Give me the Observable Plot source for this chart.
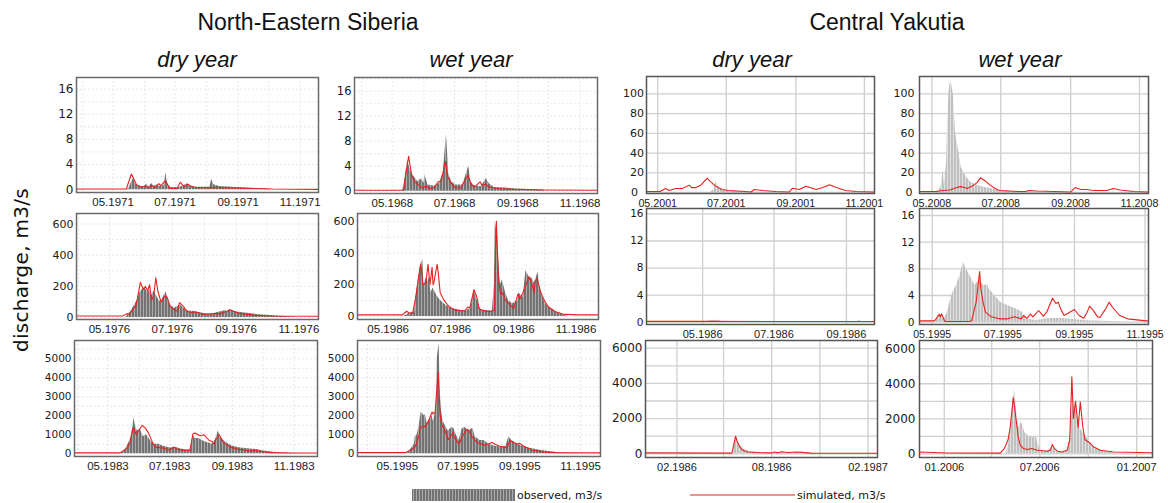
<!DOCTYPE html>
<html><head><meta charset="utf-8">
<script src="https://cdn.jsdelivr.net/npm/d3@7"></script>
<script src="https://cdn.jsdelivr.net/npm/@observablehq/plot@0.6"></script>
<style>
body{margin:0;background:#fff;}
#root{position:relative;width:1168px;height:503px;overflow:hidden;background:#fff;}
</style></head><body>
<div id="root">
<svg width="0" height="0" style="position:absolute"><defs>
<pattern id="obsNE" patternUnits="userSpaceOnUse" width="3" height="6"><rect width="3" height="6" fill="#b2b2b2"/><rect width="2.1" height="6" fill="#737373"/></pattern>
<pattern id="obsCY" patternUnits="userSpaceOnUse" width="3" height="6"><rect width="3" height="6" fill="#e4e4e4"/><rect width="2.1" height="6" fill="#c0c0c0"/></pattern>
</defs></svg>
<svg id="txt" width="1168" height="503" style="position:absolute;left:0;top:0">
<g font-family="Liberation Sans, Arial, sans-serif" fill="#111" text-anchor="middle">
<text x="308" y="30" font-size="23">North-Eastern Siberia</text>
<text x="887" y="30" font-size="23">Central Yakutia</text>
<g font-style="italic" font-size="22">
<text x="197" y="67">dry year</text>
<text x="471" y="67">wet year</text>
<text x="752" y="67">dry year</text>
<text x="1020" y="67">wet year</text>
</g>
</g>
<text transform="translate(28,270) rotate(-90)" text-anchor="middle" font-family="DejaVu Sans, Verdana, sans-serif" font-size="20" letter-spacing="0.3" fill="#111">discharge, m3/s</text>
<g font-family="DejaVu Sans, Verdana, sans-serif" font-size="11" fill="#111">
<rect x="412" y="489" width="103" height="12" fill="url(#obsNE)"/>
<text x="517" y="499">observed, m3/s</text>
<line x1="690" x2="795" y1="495" y2="495" stroke="#e8211f" stroke-width="1"/>
<text x="797" y="499">simulated, m3/s</text>
</g>
</svg>
</div>
<script>
// ---------- data: observed / simulated discharge (m3/s) ----------
const p1Obs = [["1971-03-26",0],["1971-05-15",0],["1971-05-17",0.4],["1971-05-21",1.8],["1971-05-23",0.9],["1971-05-25",0.6],["1971-05-29",0.5],["1971-06-01",0.5],["1971-06-03",0.9],["1971-06-05",0.4],["1971-06-08",1.0],["1971-06-10",0.5],["1971-06-13",0.8],["1971-06-16",0.5],["1971-06-20",0.6],["1971-06-22",2.7],["1971-06-23",1.4],["1971-06-25",0.5],["1971-06-28",0.3],["1971-07-06",0.4],["1971-07-13",0.9],["1971-07-16",0.6],["1971-07-22",0.4],["1971-08-04",0.4],["1971-08-06",1.6],["1971-08-08",0.8],["1971-08-14",0.5],["1971-09-03",0.3],["1971-09-19",0.2],["1971-09-29",0.15],["1971-10-02",0],["1971-11-19",0]];
const p1Sim = [["1971-03-26",0.1],["1971-05-14",0.1],["1971-05-19",2.5],["1971-05-24",0.8],["1971-05-29",0.4],["1971-06-02",0.6],["1971-06-05",0.3],["1971-06-08",0.7],["1971-06-11",0.3],["1971-06-15",0.95],["1971-06-17",0.6],["1971-06-21",1.4],["1971-06-26",0.2],["1971-07-03",0.2],["1971-07-06",1.2],["1971-07-10",0.4],["1971-07-13",0.9],["1971-07-17",0.5],["1971-07-22",0.3],["1971-08-04",0.35],["1971-09-03",0.25],["1971-10-05",0.1],["1971-11-19",0.05]];

const p2Obs = [["1968-03-25",0],["1968-05-11",0],["1968-05-13",1.5],["1968-05-16",5.0],["1968-05-19",3.2],["1968-05-23",2.2],["1968-05-26",1.5],["1968-05-30",2.0],["1968-06-01",1.2],["1968-06-02",2.6],["1968-06-05",1.0],["1968-06-11",0.8],["1968-06-16",1.2],["1968-06-20",3.0],["1968-06-23",9.1],["1968-06-24",6.7],["1968-06-25",3.0],["1968-06-28",1.5],["1968-07-02",1.0],["1968-07-09",1.0],["1968-07-15",4.0],["1968-07-17",1.5],["1968-07-20",0.9],["1968-07-27",0.7],["1968-08-01",2.0],["1968-08-04",1.2],["1968-08-09",0.6],["1968-08-20",0.5],["1968-08-28",0.4],["1968-09-07",0.3],["1968-09-26",0.2],["1968-09-28",0],["1968-11-18",0]];
const p2Sim = [["1968-03-25",0.15],["1968-05-12",0.15],["1968-05-17",5.6],["1968-05-20",2.5],["1968-05-23",1.5],["1968-05-28",0.8],["1968-05-31",0.5],["1968-06-03",0.9],["1968-06-06",0.4],["1968-06-11",0.6],["1968-06-15",1.5],["1968-06-18",1.6],["1968-06-22",4.8],["1968-06-24",2.4],["1968-06-27",1.5],["1968-07-01",0.6],["1968-07-07",0.5],["1968-07-14",2.6],["1968-07-17",1.2],["1968-07-20",0.6],["1968-07-26",1.5],["1968-07-28",0.9],["1968-07-31",1.1],["1968-08-05",0.6],["1968-08-15",0.4],["1968-08-28",0.3],["1968-09-26",0.2],["1968-11-18",0.15]];

const p3Obs = [["2001-04-21",0],["2001-06-17",0],["2001-06-20",3],["2001-06-22",11],["2001-06-24",6],["2001-06-27",3],["2001-07-03",1.5],["2001-07-18",0.5],["2001-08-01",0],["2001-11-10",0]];
const p3Sim = [["2001-04-21",1],["2001-05-03",1],["2001-05-08",4],["2001-05-11",2],["2001-05-17",4],["2001-05-23",4],["2001-05-29",7.5],["2001-05-31",5],["2001-06-04",5],["2001-06-08",7],["2001-06-14",14.5],["2001-06-17",11],["2001-06-21",7],["2001-06-27",3],["2001-07-03",2],["2001-07-18",1],["2001-07-23",0.5],["2001-07-26",3],["2001-08-02",2],["2001-08-14",1],["2001-08-26",0.5],["2001-08-29",4.4],["2001-09-04",3],["2001-09-10",6.4],["2001-09-19",3],["2001-09-25",5],["2001-10-01",7.8],["2001-10-07",5],["2001-10-15",2],["2001-10-25",1],["2001-11-10",0.5]];

const p4Obs = [["2008-04-20",0],["2008-05-04",0],["2008-05-07",2],["2008-05-09",5],["2008-05-11",23],["2008-05-12",8],["2008-05-14",30],["2008-05-15",70],["2008-05-16",100],["2008-05-17",110],["2008-05-18",113],["2008-05-20",100],["2008-05-21",80],["2008-05-22",60],["2008-05-25",40],["2008-05-27",25],["2008-06-01",15],["2008-06-05",10],["2008-06-13",6],["2008-06-21",4],["2008-06-30",2],["2008-07-12",1],["2008-07-27",0.5],["2008-08-11",0],["2008-11-09",0]];
const p4Sim = [["2008-04-20",1],["2008-05-05",1],["2008-05-10",2],["2008-05-17",2.5],["2008-05-23",5],["2008-05-26",6],["2008-05-30",5],["2008-06-01",4],["2008-06-05",6],["2008-06-10",10],["2008-06-13",15],["2008-06-17",12],["2008-06-21",8],["2008-06-26",4],["2008-06-30",2],["2008-07-18",1],["2008-07-23",1],["2008-07-26",2],["2008-08-02",1.5],["2008-08-17",1],["2008-09-01",0.5],["2008-09-05",5],["2008-09-10",3],["2008-09-15",3],["2008-09-21",2],["2008-10-03",2],["2008-10-09",4],["2008-10-15",2.5],["2008-10-27",1],["2008-11-09",0.5]];

const p5Obs = [["1976-03-30",0],["1976-05-17",0],["1976-05-22",40],["1976-05-28",110],["1976-05-31",165],["1976-06-04",195],["1976-06-05",185],["1976-06-07",160],["1976-06-09",175],["1976-06-11",140],["1976-06-13",170],["1976-06-15",150],["1976-06-18",110],["1976-06-20",100],["1976-06-23",140],["1976-06-25",165],["1976-06-27",110],["1976-06-29",80],["1976-07-03",60],["1976-07-09",80],["1976-07-12",60],["1976-07-17",40],["1976-07-22",40],["1976-07-28",30],["1976-08-07",20],["1976-08-13",30],["1976-08-22",45],["1976-08-23",35],["1976-08-26",50],["1976-09-02",35],["1976-09-08",30],["1976-09-21",20],["1976-10-07",12],["1976-10-23",5],["1976-11-02",0],["1976-11-20",0]];
const p5Sim = [["1976-03-30",10],["1976-05-14",10],["1976-05-18",25],["1976-05-20",20],["1976-05-27",80],["1976-05-31",225],["1976-06-03",180],["1976-06-05",200],["1976-06-07",170],["1976-06-09",210],["1976-06-11",110],["1976-06-13",140],["1976-06-15",255],["1976-06-17",170],["1976-06-20",100],["1976-06-24",140],["1976-06-26",130],["1976-06-29",70],["1976-07-03",50],["1976-07-06",40],["1976-07-08",95],["1976-07-12",70],["1976-07-15",40],["1976-07-20",30],["1976-07-23",35],["1976-08-01",20],["1976-08-10",25],["1976-08-17",25],["1976-08-23",40],["1976-08-26",50],["1976-08-31",35],["1976-09-05",25],["1976-09-18",15],["1976-10-07",10],["1976-11-20",8]];

const p6Obs = [["1986-04-01",0],["1986-05-16",0],["1986-05-22",20],["1986-05-27",30],["1986-05-28",120],["1986-05-31",250],["1986-06-02",330],["1986-06-04",360],["1986-06-05",200],["1986-06-07",240],["1986-06-09",220],["1986-06-10",250],["1986-06-12",150],["1986-06-14",180],["1986-06-17",140],["1986-06-20",110],["1986-06-23",90],["1986-06-27",70],["1986-07-03",50],["1986-07-10",40],["1986-07-16",35],["1986-07-21",50],["1986-07-24",160],["1986-07-26",130],["1986-07-29",70],["1986-07-31",40],["1986-08-11",35],["1986-08-13",200],["1986-08-14",600],["1986-08-16",500],["1986-08-17",380],["1986-08-19",200],["1986-08-21",230],["1986-08-24",150],["1986-08-27",100],["1986-08-31",80],["1986-09-05",100],["1986-09-06",150],["1986-09-10",120],["1986-09-13",290],["1986-09-16",250],["1986-09-19",240],["1986-09-21",210],["1986-09-25",280],["1986-09-26",200],["1986-09-29",130],["1986-10-02",80],["1986-10-05",60],["1986-10-12",30],["1986-10-19",10],["1986-10-25",0],["1986-11-23",0]];
const p6Sim = [["1986-04-01",10],["1986-05-15",10],["1986-05-19",33],["1986-05-22",20],["1986-05-25",20],["1986-05-28",120],["1986-06-01",300],["1986-06-02",330],["1986-06-04",200],["1986-06-07",210],["1986-06-09",330],["1986-06-11",200],["1986-06-13",310],["1986-06-14",200],["1986-06-15",220],["1986-06-18",330],["1986-06-19",280],["1986-06-21",150],["1986-06-25",100],["1986-06-30",60],["1986-07-06",40],["1986-07-15",35],["1986-07-18",60],["1986-07-20",55],["1986-07-24",170],["1986-07-27",120],["1986-07-29",50],["1986-08-01",40],["1986-08-08",30],["1986-08-11",35],["1986-08-13",40],["1986-08-14",300],["1986-08-15",600],["1986-08-17",250],["1986-08-19",140],["1986-08-21",150],["1986-08-24",100],["1986-08-29",70],["1986-09-01",50],["1986-09-05",140],["1986-09-07",110],["1986-09-10",150],["1986-09-13",200],["1986-09-16",250],["1986-09-19",200],["1986-09-21",150],["1986-09-22",220],["1986-09-24",240],["1986-09-27",160],["1986-10-01",100],["1986-10-05",60],["1986-10-12",30],["1986-10-19",15],["1986-11-01",10],["1986-11-23",10]];

const p7Obs = [["1986-03-14",0],["1986-05-04",0],["1986-05-08",0.3],["1986-05-15",0.25],["1986-05-19",0],["1986-06-10",0],["1986-06-15",0.15],["1986-06-24",0.1],["1986-06-28",0],["1986-09-08",0],["1986-09-12",0.2],["1986-09-16",0],["1986-09-25",0]];
const p7Sim = [["1986-03-14",0.12],["1986-05-01",0.12],["1986-07-01",0.1],["1986-09-25",0.1]];

const p8Obs = [["1995-04-20",0],["1995-05-04",0],["1995-05-07",1.5],["1995-05-09",0.8],["1995-05-11",0.5],["1995-05-13",1.0],["1995-05-15",2.0],["1995-05-17",3.5],["1995-05-19",4.5],["1995-05-22",5.5],["1995-05-25",7],["1995-05-28",9],["1995-05-29",8.5],["1995-06-01",7.5],["1995-06-04",6.5],["1995-06-07",5.5],["1995-06-11",6.5],["1995-06-14",5.5],["1995-06-18",5.6],["1995-06-19",5.0],["1995-06-24",4],["1995-06-29",3],["1995-07-05",2.5],["1995-07-12",2],["1995-07-18",1.5],["1995-07-21",0.5],["1995-07-30",0.2],["1995-08-08",0.5],["1995-08-19",0.6],["1995-08-31",0.4],["1995-09-11",0.2],["1995-10-04",0.1],["1995-10-16",0],["1995-11-04",0]];
const p8Sim = [["1995-04-20",0.2],["1995-05-03",0.2],["1995-05-07",1.15],["1995-05-08",0.8],["1995-05-09",1.25],["1995-05-12",0.1],["1995-06-02",0.1],["1995-06-04",0.2],["1995-06-08",3],["1995-06-11",7.6],["1995-06-12",5],["1995-06-14",3],["1995-06-16",1.5],["1995-06-21",0.8],["1995-06-28",0.5],["1995-07-05",0.5],["1995-07-11",0.8],["1995-07-17",0.5],["1995-07-19",1.0],["1995-07-21",0.7],["1995-07-22",0.6],["1995-07-25",1.2],["1995-07-27",0.8],["1995-08-01",1.75],["1995-08-05",0.9],["1995-08-08",1.5],["1995-08-13",3.6],["1995-08-16",2.8],["1995-08-18",3.0],["1995-08-20",2.0],["1995-08-23",1.0],["1995-09-01",1.9],["1995-09-05",1.0],["1995-09-09",0.6],["1995-09-12",1.5],["1995-09-14",2.4],["1995-09-17",1.8],["1995-09-21",0.8],["1995-09-23",0.7],["1995-09-26",1.5],["1995-09-28",2.0],["1995-10-01",3.0],["1995-10-04",2.2],["1995-10-10",1.0],["1995-10-17",0.5],["1995-11-02",0.2],["1995-11-04",0.2]];

const p9Obs = [["1983-03-29",0],["1983-05-13",0],["1983-05-18",200],["1983-05-21",500],["1983-05-24",900],["1983-05-27",1900],["1983-05-28",1500],["1983-05-30",1200],["1983-06-02",1300],["1983-06-05",900],["1983-06-08",1000],["1983-06-12",700],["1983-06-15",500],["1983-06-20",500],["1983-06-25",400],["1983-07-02",300],["1983-07-07",350],["1983-07-12",250],["1983-07-18",200],["1983-07-22",200],["1983-07-24",1000],["1983-07-26",800],["1983-07-30",800],["1983-08-02",700],["1983-08-07",600],["1983-08-12",500],["1983-08-15",700],["1983-08-18",1200],["1983-08-20",900],["1983-08-23",700],["1983-08-27",550],["1983-09-01",400],["1983-09-09",300],["1983-09-19",250],["1983-09-25",220],["1983-10-02",150],["1983-10-12",80],["1983-10-22",40],["1983-11-04",20],["1983-11-10",0],["1983-11-24",0]];
const p9Sim = [["1983-03-29",50],["1983-05-13",50],["1983-05-20",300],["1983-05-23",600],["1983-05-26",1400],["1983-05-29",1000],["1983-05-31",1200],["1983-06-04",1500],["1983-06-07",1350],["1983-06-10",1100],["1983-06-14",600],["1983-06-17",350],["1983-06-25",300],["1983-06-30",200],["1983-07-05",350],["1983-07-08",250],["1983-07-15",180],["1983-07-21",180],["1983-07-24",1050],["1983-07-26",1100],["1983-07-31",950],["1983-08-04",1000],["1983-08-09",700],["1983-08-12",650],["1983-08-14",500],["1983-08-15",700],["1983-08-19",1000],["1983-08-21",800],["1983-08-24",550],["1983-08-27",450],["1983-08-30",350],["1983-09-06",250],["1983-09-12",200],["1983-09-19",150],["1983-09-24",180],["1983-09-29",120],["1983-10-09",60],["1983-10-28",40],["1983-11-24",40]];

const p10Obs = [["1995-03-22",0],["1995-05-11",0],["1995-05-14",200],["1995-05-18",500],["1995-05-19",900],["1995-05-21",1000],["1995-05-23",1500],["1995-05-25",2200],["1995-05-28",2000],["1995-05-29",2100],["1995-05-31",1600],["1995-06-03",1800],["1995-06-05",2000],["1995-06-06",1700],["1995-06-09",2300],["1995-06-10",5000],["1995-06-12",5800],["1995-06-13",3500],["1995-06-14",2400],["1995-06-16",1700],["1995-06-18",1500],["1995-06-21",1200],["1995-06-25",1400],["1995-06-27",1300],["1995-06-30",900],["1995-07-02",700],["1995-07-05",1300],["1995-07-08",1400],["1995-07-11",1200],["1995-07-16",1350],["1995-07-18",900],["1995-07-23",700],["1995-07-27",700],["1995-08-01",500],["1995-08-07",400],["1995-08-14",350],["1995-08-18",400],["1995-08-21",900],["1995-08-24",700],["1995-08-27",600],["1995-09-01",450],["1995-09-10",300],["1995-09-20",200],["1995-09-30",120],["1995-10-10",60],["1995-10-27",20],["1995-11-03",0],["1995-11-21",0]];
const p10Sim = [["1995-03-22",60],["1995-05-09",60],["1995-05-14",200],["1995-05-18",300],["1995-05-20",500],["1995-05-23",1000],["1995-05-24",1400],["1995-05-28",1450],["1995-05-29",1400],["1995-06-01",1700],["1995-06-05",2200],["1995-06-06",2100],["1995-06-08",2200],["1995-06-11",4300],["1995-06-13",2000],["1995-06-15",1500],["1995-06-18",1200],["1995-06-21",750],["1995-06-26",1100],["1995-06-28",800],["1995-07-02",500],["1995-07-05",900],["1995-07-10",1300],["1995-07-12",1200],["1995-07-15",900],["1995-07-18",700],["1995-07-22",550],["1995-07-28",450],["1995-08-04",600],["1995-08-07",500],["1995-08-12",400],["1995-08-17",350],["1995-08-19",300],["1995-08-22",700],["1995-08-26",600],["1995-08-29",500],["1995-09-01",550],["1995-09-05",400],["1995-09-13",200],["1995-09-23",100],["1995-10-07",60],["1995-11-21",50]];

const p11Obs = [["1985-12-03",0],["1986-05-19",0],["1986-05-22",600],["1986-05-25",850],["1986-05-30",600],["1986-06-04",400],["1986-06-10",250],["1986-06-19",150],["1986-07-05",80],["1986-08-01",50],["1986-08-20",80],["1986-09-14",60],["1986-10-09",40],["1986-10-22",0],["1987-02-19",0]];
const p11Sim = [["1985-12-03",50],["1986-05-17",40],["1986-05-24",1000],["1986-05-27",700],["1986-06-01",400],["1986-06-07",200],["1986-06-16",100],["1986-07-12",60],["1986-08-01",50],["1986-08-07",100],["1986-08-12",60],["1986-08-20",120],["1986-09-01",70],["1986-09-17",100],["1986-09-27",80],["1986-10-15",40],["1987-02-19",30]];

const p12Obs = [["2005-11-15",80],["2005-11-23",50],["2005-11-26",0],["2006-04-28",0],["2006-05-03",500],["2006-05-07",1500],["2006-05-11",3000],["2006-05-14",3700],["2006-05-17",2800],["2006-05-22",1500],["2006-05-27",1800],["2006-05-30",1600],["2006-06-03",1200],["2006-06-10",1000],["2006-06-19",900],["2006-06-24",1000],["2006-06-27",700],["2006-07-02",200],["2006-07-15",150],["2006-07-21",300],["2006-07-27",400],["2006-08-03",100],["2006-08-22",150],["2006-08-28",1000],["2006-09-01",2500],["2006-09-04",3000],["2006-09-10",2200],["2006-09-15",1500],["2006-09-21",1200],["2006-09-27",1000],["2006-10-05",600],["2006-10-14",300],["2006-10-30",150],["2006-11-18",50],["2006-11-25",0],["2007-01-31",0]];
const p12Sim = [["2005-11-15",100],["2006-01-06",50],["2006-04-17",40],["2006-04-25",300],["2006-05-02",800],["2006-05-06",1500],["2006-05-12",3200],["2006-05-15",2500],["2006-05-21",1000],["2006-05-25",500],["2006-05-31",300],["2006-06-07",250],["2006-06-16",300],["2006-06-26",200],["2006-07-15",150],["2006-07-21",200],["2006-07-25",530],["2006-07-29",300],["2006-08-04",150],["2006-08-12",100],["2006-08-22",200],["2006-08-27",800],["2006-08-31",4400],["2006-09-03",2000],["2006-09-07",3000],["2006-09-12",1500],["2006-09-16",2950],["2006-09-21",1500],["2006-09-25",800],["2006-10-05",600],["2006-10-11",400],["2006-10-24",200],["2006-11-18",100],["2007-01-31",60]];

// ---------- tick labels ----------
const ticksSmall = [0,4,8,12,16];
const ticks100 = [0,20,40,60,80,100];
const ticks600 = [0,200,400,600];
const ticks5000 = [0,1000,2000,3000,4000,5000];
const ticks6000 = [0,2000,4000,6000];
const xt = y => [`${y}-05-01`,`${y}-07-01`,`${y}-09-01`,`${y}-11-01`];
const xt11 = ["1986-02-01","1986-08-01","1987-02-01"];
const xg11 = ["1986-02-01","1986-05-01","1986-08-01","1986-11-01","1987-02-01"];
const xt12 = ["2006-01-01","2006-07-01","2007-01-01"];
const xg12 = ["2006-01-01","2006-04-01","2006-07-01","2006-10-01","2007-01-01"];

// ---------- layout (frame boxes: left, top, right, bottom) ----------
const panels = [
  {obs:p1Obs, sim:p1Sim, xd:["1971-03-26","1971-11-19"], xt:xt(1971), yd:[-0.45,17.85], yt:ticksSmall, ystep:2, kind:"NE", box:[76,77,318,192], yfs:12, xp:5, xfs:11.5},
  {obs:p2Obs, sim:p2Sim, xd:["1968-03-25","1968-11-18"], xt:xt(1968), yd:[-0.37,18.2], yt:ticksSmall, ystep:2, kind:"NE", box:[354,77,597,193], yfs:11.5, xp:5, xfs:11.5},
  {obs:p3Obs, sim:p3Sim, xd:["2001-04-21","2001-11-10"], xt:xt(2001), yd:[-1,117.7], yt:ticks100, kind:"CY", box:[646,76,874,193], yfs:11, xp:5.5, xfs:10.7, yp:2.5, zeroDx:-6},
  {obs:p4Obs, sim:p4Sim, xd:["2008-04-20","2008-11-09"], xt:xt(2008), yd:[-1,117.7], yt:ticks100, kind:"CY", box:[919,76,1148,193], yfs:11, xp:5.5, xfs:10.7, yp:5, zeroDx:-2},
  {obs:p5Obs, sim:p5Sim, xd:["1976-03-30","1976-11-20"], xt:xt(1976), yd:[-12.8,667.6], yt:ticks600, ystep:100, kind:"NE", box:[76,213,318,319], yfs:11, xp:5, xfs:11.5},
  {obs:p6Obs, sim:p6Sim, xd:["1986-04-01","1986-11-23"], xt:xt(1986), yd:[-19,650], yt:ticks600, ystep:100, kind:"NE", box:[357,213,598,319], yfs:11, xp:5, xfs:11.5},
  {obs:p7Obs, sim:p7Sim, xd:["1986-03-14","1986-09-25"], xt:["1986-05-01","1986-07-01","1986-09-01"], yd:[-0.34,16.8], yt:ticksSmall, kind:"CY", box:[646,208,874,324], yfs:10.5, xp:6, xfs:11},
  {obs:p8Obs, sim:p8Sim, xd:["1995-04-20","1995-11-04"], xt:xt(1995), yd:[-0.35,17.05], yt:ticksSmall, kind:"CY", box:[919,208,1148,324], yfs:10.5, xp:6, xfs:10.5, yp:5},
  {obs:p9Obs, sim:p9Sim, xd:["1983-03-29","1983-11-24"], xt:xt(1983), yd:[-142,5963], yt:ticks5000, ystep:500, kind:"NE", box:[74,340,317,456], yfs:10.5, xp:5, xfs:11.5},
  {obs:p10Obs, sim:p10Sim, xd:["1995-03-22","1995-11-21"], xt:xt(1995), yd:[-142,5963], yt:ticks5000, ystep:500, kind:"NE", box:[357,340,600,456], yfs:10.5, xp:5, xfs:11.5},
  {obs:p11Obs, sim:p11Sim, xd:["1985-12-03","1987-02-19"], xt:xt11, xg:xg11, yd:[-210,6437], yt:ticks6000, ygrid:[0,1000,2000,3000,4000,5000,6000], kind:"CY", box:[645,340,877,457], yfs:12, xp:6, xfs:11},
  {obs:p12Obs, sim:p12Sim, xd:["2005-11-15","2007-01-31"], xt:xt12, xg:xg12, yd:[-210,6470], yt:ticks6000, ygrid:[0,1000,2000,3000,4000,5000,6000], kind:"CY", box:[919,340,1152,457], yfs:12, xp:6, xfs:11, yp:4}
];

const toRows = a => a.map(([d, v]) => ({date: new Date(d), value: v}));
const ML = 46, MR = 30, MT = 6, MB = 24;
const root = document.getElementById("root");

for (const p of panels) {
  const [l, t, r, b] = p.box;
  const xd = p.xd.map(d => new Date(d));
  const xticks = p.xt.map(d => new Date(d));
  const ne = p.kind === "NE";
  let xgrid, ygrid;
  if (ne) {
    xgrid = d3.utcMonth.range(xd[0], xd[1]);
    ygrid = d3.range(0, p.yd[1], p.ystep);
  } else {
    xgrid = (p.xg || p.xt).map(d => new Date(d));
    ygrid = p.ygrid || p.yt;
  }
  const gridStyle = ne
    ? {stroke: "#e2e2e2", strokeOpacity: 1, strokeWidth: 0.8, strokeDasharray: "2,2"}
    : {stroke: "#cfcfcf", strokeOpacity: 1, strokeWidth: 1.3};
  const yp = p.yp ?? 3;
  const yAxes = p.zeroDx != null
    ? [Plot.axisY(p.yt.filter(v => v !== 0), {tickSize: 0, tickPadding: yp, fontSize: p.yfs, tickFormat: d => String(d), label: null}),
       Plot.axisY([0], {tickSize: 0, tickPadding: yp, dx: p.zeroDx, fontSize: p.yfs, tickFormat: d => String(d), label: null})]
    : [Plot.axisY(p.yt, {tickSize: 0, tickPadding: yp, fontSize: p.yfs, tickFormat: d => String(d), label: null})];
  const svg = Plot.plot({
    width: (r - l) + ML + MR,
    height: (b - t) + MT + MB,
    marginLeft: ML, marginRight: MR, marginTop: MT, marginBottom: MB,
    x: {type: "utc", domain: xd, label: null},
    y: {domain: p.yd, label: null},
    style: {background: "transparent", overflow: "visible", fontFamily: "DejaVu Sans, Verdana, sans-serif", color: "#1a1a1a", maxWidth: "none"},
    marks: [
      Plot.gridX(xgrid, gridStyle),
      Plot.gridY(ygrid, gridStyle),
      Plot.areaY(toRows(p.obs), {x: "date", y: "value", fill: ne ? "url(#obsNE)" : "url(#obsCY)", clip: true}),
      Plot.lineY(toRows(p.sim), {x: "date", y: "value", stroke: "#e8211f", strokeWidth: 1.1, clip: true}),
      Plot.frame({stroke: ne ? "#6a6a6a" : "#555", strokeWidth: 1.5}),
      ...yAxes,
      Plot.axisX(xticks, {tickSize: 0, tickPadding: p.xp, fontSize: p.xfs, fontFamily: "Liberation Sans, Arial, sans-serif", tickFormat: d3.utcFormat("%m.%Y"), label: null})
    ]
  });
  svg.style.position = "absolute";
  svg.style.left = (l - ML) + "px";
  svg.style.top = (t - MT) + "px";
  root.appendChild(svg);
}
</script>
</body></html>
